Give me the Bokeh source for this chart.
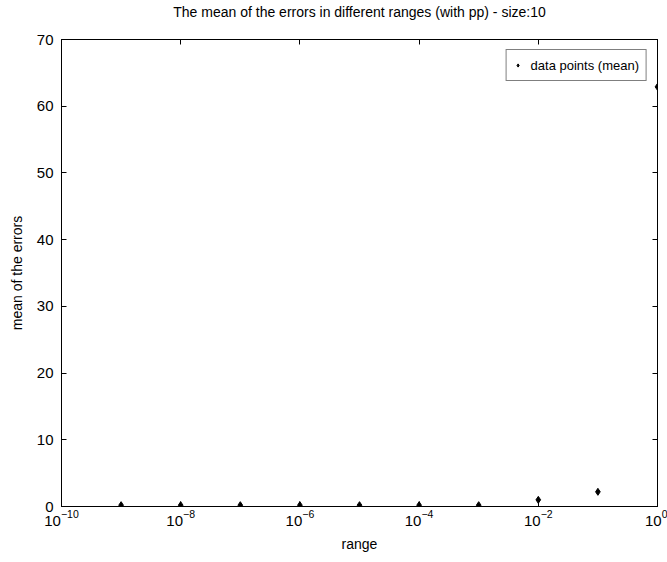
from bokeh.plotting import figure
from bokeh.models import LogAxis, LinearAxis, FixedTicker, Range1d, Legend, LegendItem, CustomJSTickFormatter
from bokeh.embed import file_html
from bokeh.resources import INLINE

# data
x_values = [1e-9, 1e-8, 1e-7, 1e-6, 1e-5, 1e-4, 1e-3, 1e-2, 1e-1, 1e0]
y_values = [0.2, 0.2, 0.2, 0.2, 0.2, 0.2, 0.2, 1.0, 2.2, 62.9]
x_ticks = [1e-10, 1e-8, 1e-6, 1e-4, 1e-2, 1e0]
y_ticks = [0, 10, 20, 30, 40, 50, 60, 70]
title_text = "The mean of the errors in different ranges (with pp) - size:10"
legend_text = "data points (mean)"

FONT = "Liberation Sans"

p = figure(x_axis_type="log", frame_width=596, frame_height=467,
           x_range=Range1d(1e-10, 1e0), y_range=Range1d(0, 70),
           output_backend="svg", toolbar_location=None,
           min_border_left=61, min_border_right=10, min_border_top=39, min_border_bottom=56,
           background_fill_color="white", border_fill_color="white")
p.title.text = title_text
p.title.align = "center"
p.title.text_font = FONT
p.title.text_font_size = "14px"
p.title.text_font_style = "normal"
p.title.text_color = "black"
p.title.standoff = 2

p.xgrid.visible = False
p.ygrid.visible = False
p.outline_line_color = "black"
p.outline_line_width = 1

def style(ax):
    ax.axis_line_color = "black"
    ax.major_tick_in = 5
    ax.major_tick_out = 0
    ax.minor_tick_line_color = None
    ax.major_tick_line_color = "black"
    ax.major_label_text_font = FONT
    ax.major_label_text_font_size = "15px"
    ax.major_label_text_color = "black"
    ax.axis_label_text_font = FONT
    ax.axis_label_text_font_size = "14px"
    ax.axis_label_text_font_style = "normal"
    ax.axis_label_text_color = "black"

xa = p.xaxis[0]
ya = p.yaxis[0]
style(xa)
style(ya)
xa.ticker = FixedTicker(ticks=x_ticks)
ya.ticker = FixedTicker(ticks=y_ticks)
xa.axis_label = "range"
ya.axis_label = "mean of the errors"
xa.major_label_standoff = 3
ya.major_label_standoff = 8
xa.axis_label_standoff = 7
ya.axis_label_standoff = 9

top = LogAxis(ticker=FixedTicker(ticks=x_ticks), formatter=CustomJSTickFormatter(code="return ''"))
style(top)
top.major_label_standoff = 0
top.major_label_text_font_size = "4px"
top.axis_label = " "
top.axis_label_text_font_size = "10px"
top.axis_label_standoff = 5
p.add_layout(top, "above")
right = LinearAxis(ticker=FixedTicker(ticks=y_ticks), formatter=CustomJSTickFormatter(code="return ''"))
style(right)
right.major_label_standoff = 0
right.major_label_text_font_size = "4px"
p.add_layout(right, "right")

r = p.scatter(x_values, y_values, marker="diamond", size=7, color="black")

legend = Legend(items=[LegendItem(label=legend_text, renderers=[r])],
                location="top_right")
legend.label_text_font = FONT
legend.label_text_font_size = "13px"
legend.label_text_color = "black"
legend.border_line_color = "black"
legend.border_line_width = 1
legend.padding = 7
legend.margin = 10
legend.glyph_width = 8
legend.glyph_height = 16
legend.label_height = 16
legend.label_standoff = 9
legend.background_fill_alpha = 1
p.add_layout(legend, "center")

open("out.html", "w").write(file_html(p, INLINE))
